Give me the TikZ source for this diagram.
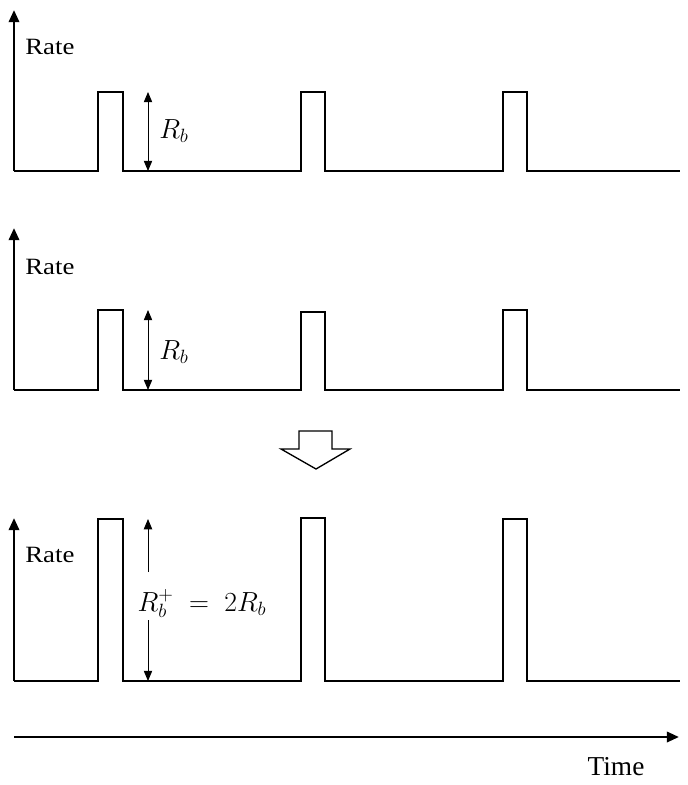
\documentclass[tikz,border=0pt]{standalone}
\usepackage{fontspec}
\setmainfont{Liberation Serif}
\newfontfamily\ratefont[FakeStretch=1.15]{Liberation Serif}
\usetikzlibrary{arrows.meta}
\tikzset{
    rateaxis/.style={line width=2pt, -{Triangle[length=3.2mm,width=2.7mm]}},
    rateline/.style={line width=1.8pt, line join=miter},
    ratedim/.style={line width=0.7pt, {Triangle[length=2.7mm,width=2.2mm]}-{Triangle[length=2.7mm,width=2.2mm]}},
    ratehalf/.style={line width=0.7pt, -{Triangle[length=2.7mm,width=2.2mm]}},
    ratetext/.style={font=\ratefont\fontsize{17.5}{20}\selectfont, anchor=west, inner sep=0pt},
    ratemath/.style={font=\fontsize{20}{22}\selectfont, anchor=west, inner sep=0pt},
    timetext/.style={font=\fontsize{20.5}{22}\selectfont, inner sep=0pt},
    hollowarrow/.style={draw, line width=1pt, fill=white, line join=miter}
}

\begin{document}
\begin{tikzpicture}[x=0.75pt, y=-0.75pt]
    \useasboundingbox (0,0) rectangle (687,785);

    % rate panels
    \foreach \n/\base/\htop/\hmid/\axtop/\ratey in {1/171/92/92/10/47, 2/390/310/312/228/267, 3/681/519/518/518/555} {
        \coordinate (o\n) at (14,\base);
        \coordinate (y\n) at (14,\axtop);
        \draw[rateaxis] (o\n) -- (y\n);
        \draw[rateline] (o\n) -- (98,\base) -- (98,\htop) -- (123,\htop) -- (123,\base)
            -- (301,\base) -- (301,\hmid) -- (325,\hmid) -- (325,\base)
            -- (503,\base) -- (503,\htop) -- (527,\htop) -- (527,\base) -- (680,\base);
        \node[ratetext] (rate\n) at (25,\ratey) {Rate};
        \coordinate (db\n) at (148,\base);
        \coordinate (dt\n) at (148,\htop);
    }

    \draw[ratedim] (db1) -- (dt1);
    \node[ratemath] (rb1) at (159,131) {$R_b$};
    \draw[ratedim] (db2) -- (dt2);
    \node[ratemath] (rb2) at (159,352) {$R_b$};

    \node[ratemath, anchor=center] (rb3) at (202,603) {$R_b^+ \;=\; 2R_b$};
    \coordinate (ga3) at (148,572);
    \coordinate (gb3) at (148,620);
    \draw[ratehalf] (ga3) -- (dt3);
    \draw[ratehalf] (gb3) -- (db3);

    % hollow arrow between panels
    \draw[hollowarrow] (299,431) -- (332,431) -- (332,449) -- (350,449) -- (316,469)
        -- (281,449) -- (299,449) -- cycle;

    % time axis
    \coordinate (t0) at (14,737);
    \coordinate (t1) at (679,737);
    \draw[rateaxis] (t0) -- (t1);
    \node[timetext] (time) at (616,767) {Time};
\end{tikzpicture}
\end{document}
